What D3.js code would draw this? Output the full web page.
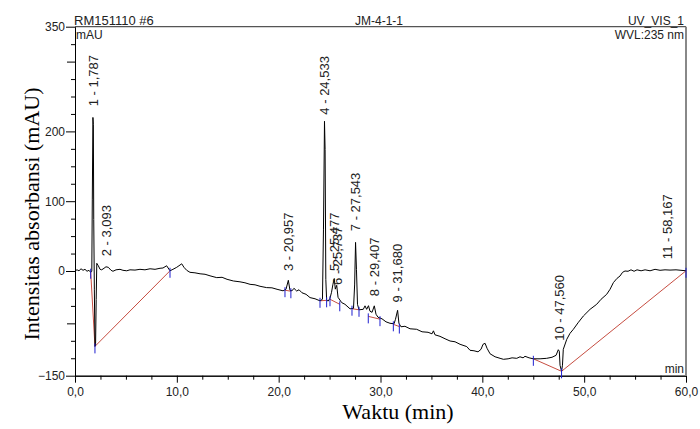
<!DOCTYPE html>
<html lang="en">
<head>
<meta charset="UTF-8">
<title>Kromatogram JM-4-1-1</title>
<script src="https://cdn.jsdelivr.net/npm/d3@7"></script>
<style>
  body { margin: 0; background: #fff; }
  svg text { font-family: "Liberation Sans", Arial, sans-serif; fill: #222; }
  .axis text { font-size: 12px; }
  .axis line, .axis path { stroke: #000; }
  .title { font-family: "Liberation Serif", "Times New Roman", serif; font-size: 22px; fill: #000; }
</style>
</head>
<body>
<script>
// chromatogram trace (min, mAU)
const timeMin = [0,0.20,0.39,0.59,0.79,0.98,1.18,1.37,1.54,1.65,1.70,1.76,1.80,1.84,1.90,1.96,2.02,2.08,2.14,2.29,
  2.46,2.62,2.85,3.04,3.27,3.54,3.73,4.03,4.42,4.71,5.08,5.40,5.89,6.38,6.87,7.37,7.86,8.35,8.64,9.00,
  9.33,9.62,9.99,10.21,10.48,10.70,10.97,11.29,11.78,12.28,12.77,13.26,13.92,14.44,14.93,15.55,16.20,16.69,17.19,17.68,
  18.17,18.82,19.34,19.84,20.43,20.72,20.95,21.11,21.31,21.50,21.77,22.00,22.29,22.69,23.08,23.57,24.06,24.30,24.40,24.50,
  24.56,24.63,24.71,24.87,25.04,25.19,25.33,25.46,25.56,25.70,25.83,26.19,26.51,27.01,27.35,27.46,27.55,27.64,27.74,27.89,
  28.31,28.48,28.64,28.82,28.97,29.17,29.39,29.56,29.76,30.15,30.54,30.93,31.33,31.47,31.68,31.81,32.01,32.40,32.90,33.55,
  34.08,34.67,35.06,35.20,35.35,35.84,36.34,36.83,37.32,37.81,38.47,38.79,39.18,39.58,39.87,40.07,40.27,40.46,40.76,41.25,
  41.74,42.07,42.53,42.92,43.38,43.70,44.00,44.19,44.59,45.01,45.67,46.32,46.84,47.24,47.46,47.56,47.63,47.78,47.87,47.95,
  48.29,48.61,48.94,49.40,49.92,50.58,51.23,51.66,52.21,52.54,52.87,53.23,53.52,53.77,54.01,54.31,54.60,54.90,55.19,55.59,
  55.98,56.47,56.96,57.45,57.94,58.43,59.02,59.51,60.00];
const signalMAU = [0.3,1.7,0.3,3.2,1,2.4,-0.4,1,-1.9,-0.4,103,220,210,74,-26,-108,-106,-41,11,7.5,
  2.4,1.7,3.9,6,5.3,1,-0.4,1.7,2.4,1,0.3,1.7,1.3,2.4,1.7,3.2,2.4,3.9,4.3,7.5,
  0.3,2.4,5.3,7.5,10.3,5.3,1,-1.9,-2.6,-4,-4.7,-6.9,-9.5,-9,-11.9,-14.3,-15.5,-16.9,-19.1,-19.8,
  -21.9,-23.8,-24.1,-26.2,-28.4,-26.2,-13.3,-27.7,-28.4,-24.8,-28.7,-26.9,-31.2,-33.4,-38.1,-39.8,-42.7,-40.5,60,214.5,
  174,-12,-42,-43,-39,-30.5,-19,-10.9,-26,-20.5,-37.7,-45.3,-47.7,-54.2,-53.4,-20,41,2.4,-47.7,-55.6,
  -54.9,-49.9,-54.9,-49.7,-57.7,-59.2,-49.9,-62,-66.3,-68.5,-72.8,-74.9,-75.6,-69.2,-56.3,-74.9,-79.9,-79.2,-82.8,-83.5,
  -87.1,-87.8,-90,-85.7,-91.4,-93.6,-97.1,-100.3,-101.4,-105,-108.3,-113.6,-114.3,-115.8,-112.2,-105,-103.6,-110.7,-118.6,-122.9,
  -125.1,-126.5,-125.8,-124.4,-125.1,-122.9,-124.4,-122.2,-124.4,-125.8,-125.8,-125.1,-123.6,-120.8,-112.8,-115,-135,-143.7,-135,-112.2,
  -97.9,-89.3,-83.5,-74.2,-64.5,-54.9,-47.7,-40.5,-33.4,-26.2,-16.6,-10.5,-7.2,-1.9,0,-0.4,1.7,-0.4,1.7,0.3,
  1.7,0.3,2.4,1,1.7,1.3,1.7,1,0.3];

// peaks: number, retention time, where the label starts (mAU)
const peakNo = [1,2,3,4,5,6,7,8,9,10,11];
const peakRT = [1.787,3.093,20.957,24.533,25.477,25.737,27.543,29.407,31.680,47.560,58.167];
const peakLabelAt = [236,21,0,224,0,-20,57,-36,-45,-100,17];

// integration baselines (red) and delimiters (blue)
const baseT1 = [1.54,1.96,20.62,24.06,25.04,27.2,28.8,31.26,45.01,47.78];
const baseV1 = [-1,-108,-27.5,-42.7,-40.5,-54,-65,-76.4,-125.8,-143.7];
const baseT2 = [1.96,9.33,21.2,24.71,26.0,27.89,29.95,31.85,47.78,60];
const baseV2 = [-108,0.3,-29,-42,-47.7,-55.6,-69,-79.6,-143.7,0.3];
const markT = [1.54,1.96,9.33,20.62,21.2,24.06,24.71,25.04,26.0,27.2,27.89,28.8,29.95,31.26,31.85,45.01,47.78,60];
const markV = [-1,-108,0.3,-27.5,-29,-42.7,-42,-40.5,-47.7,-54,-55.6,-65,-69,-76.4,-79.6,-125.8,-143.7,0.3];

const xMajor = [0,10,20,30,40,50,60];
const yMajor = [-150,0,100,200,350];

const W = 700, H = 429;
const padL = 75, padR = 686, padT = 26.7, padB = 375.7;

const svg = d3.select("body").append("svg")
  .attr("width", W).attr("height", H);

const x = d3.scaleLinear().domain([0, 60]).range([padL, padR]);
const y = d3.scaleLinear().domain([-150, 350]).range([padB, padT]);

const comma = function(d) { return d3.format(".1f")(d).replace(".", ","); };

// minor ticks first
svg.append("g").attr("class", "axis").attr("transform", "translate(0," + padB + ")")
  .call(d3.axisBottom(x).tickValues(d3.range(0, 60.01, 2.5).filter(function(d) { return d % 10 != 0; }))
    .tickSize(4).tickSizeOuter(0).tickFormat(""));
svg.append("g").attr("class", "axis").attr("transform", "translate(" + padL + ",0)")
  .call(d3.axisLeft(y).tickValues(d3.range(-150, 351, 25).filter(function(d) { return yMajor.indexOf(d) < 0; }))
    .tickSize(4).tickSizeOuter(0).tickFormat(""))
  .selectAll(".tick line").attr("x2", function(d) { return (d == 300 || d == -75) ? -8 : -4; });

// labelled ticks
svg.append("g").attr("class", "axis").attr("transform", "translate(0," + padB + ")")
  .call(d3.axisBottom(x).tickValues(xMajor).tickSize(7).tickSizeOuter(0).tickPadding(5).tickFormat(comma));
svg.append("g").attr("class", "axis").attr("transform", "translate(" + padL + ",0)")
  .call(d3.axisLeft(y).tickValues(yMajor).tickSize(9).tickSizeOuter(0).tickPadding(1));

// frame
svg.append("line").attr("x1", padL).attr("x2", padR).attr("y1", padT).attr("y2", padT)
  .attr("stroke", "#555").attr("stroke-width", 1.2);
svg.append("line").attr("x1", padR).attr("x2", padR).attr("y1", padT).attr("y2", padB)
  .attr("stroke", "#888").attr("stroke-width", 2);

// baselines
svg.append("g").selectAll("line").data(baseT1).enter().append("line")
  .attr("x1", function(d) { return x(d); })
  .attr("y1", function(d, i) { return y(baseV1[i]); })
  .attr("x2", function(d, i) { return x(baseT2[i]); })
  .attr("y2", function(d, i) { return y(baseV2[i]); })
  .attr("stroke", "#c0392b").attr("stroke-width", 0.9);

// trace
const line = d3.line().x(function(d) { return x(d[0]); }).y(function(d) { return y(d[1]); });
svg.append("path").datum(d3.zip(timeMin, signalMAU))
  .attr("d", line).attr("fill", "none").attr("stroke", "#000").attr("stroke-width", 1)
  .attr("stroke-linejoin", "round");

// peak delimiters
svg.append("g").selectAll("line").data(markT).enter().append("line")
  .attr("x1", function(d) { return x(d); }).attr("x2", function(d) { return x(d); })
  .attr("y1", function(d, i) { return y(markV[i]) - 3; })
  .attr("y2", function(d, i) { return y(markV[i]) + 7; })
  .attr("stroke", "#1f1fd0").attr("stroke-width", 1);

// peak labels
svg.append("g").selectAll("text").data(peakRT).enter().append("text")
  .attr("transform", function(d, i) { return "translate(" + x(d) + "," + y(peakLabelAt[i]) + ") rotate(-90)"; })
  .attr("dy", "0.35em")
  .style("font-size", "13px")
  .text(function(d, i) { return peakNo[i] + " - " + d3.format(".3f")(d).replace(".", ","); });

// header texts
svg.append("text").attr("x", 74).attr("y", 25).style("font-size", "13px").text("RM151110 #6");
svg.append("text").attr("x", 379).attr("y", 25).attr("text-anchor", "middle").style("font-size", "12px").text("JM-4-1-1");
svg.append("text").attr("x", 684).attr("y", 25).attr("text-anchor", "end").style("font-size", "12px").text("UV_VIS_1");
svg.append("text").attr("x", 76).attr("y", 39).style("font-size", "12px").text("mAU");
svg.append("text").attr("x", 684).attr("y", 39).attr("text-anchor", "end").style("font-size", "12px").text("WVL:235 nm");
svg.append("text").attr("x", 684).attr("y", 373).attr("text-anchor", "end").style("font-size", "12px").text("min");

// axis titles
svg.append("text").attr("class", "title")
  .attr("transform", "translate(39,214) rotate(-90)")
  .attr("text-anchor", "middle").text("Intensitas absorbansi (mAU)");
svg.append("text").attr("class", "title")
  .attr("x", 398).attr("y", 419).attr("text-anchor", "middle").text("Waktu (min)");
</script>
</body>
</html>
